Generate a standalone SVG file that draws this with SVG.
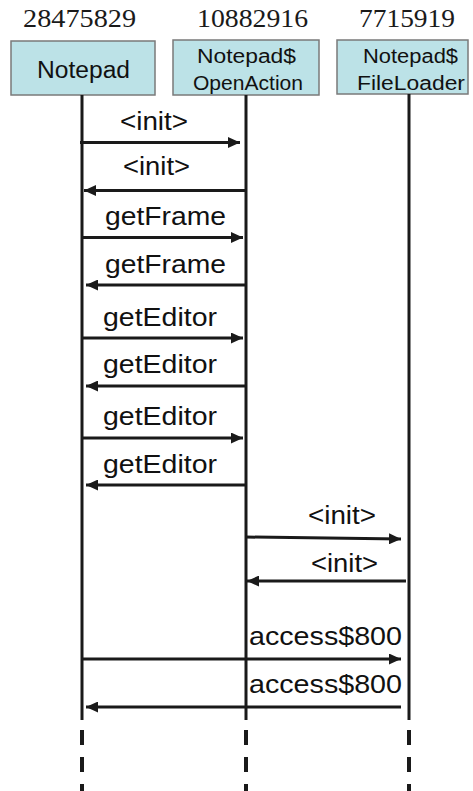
<svg xmlns="http://www.w3.org/2000/svg" width="473" height="791" viewBox="0 0 473 791">
<style>
.bg{fill:#ffffff}
.box{fill:#bce2e7;stroke:#7a7a7a;stroke-width:1.5}
.id{font-family:"Liberation Serif",serif;font-size:26px;fill:#1a1a1a}
.bl{font-family:"Liberation Sans",Arial,sans-serif;fill:#111}
.msg{font-family:"Liberation Sans",Arial,sans-serif;font-size:26.5px;fill:#111}
.life{stroke:#1a1a1a;stroke-width:3;fill:none}
.dash{stroke:#1a1a1a;stroke-width:4;stroke-dasharray:15 12;fill:none}
.arr{stroke:#1a1a1a;stroke-width:3;fill:none;marker-end:url(#ah)}
</style>
<defs>
<marker id="ah" markerUnits="userSpaceOnUse" markerWidth="13" markerHeight="11" refX="12" refY="5.5" orient="auto">
<path d="M0,0 L12,5.5 L0,11 z" fill="#1a1a1a"/>
</marker>
</defs>
<rect class="bg" x="0" y="0" width="473" height="791"/>
<g id="notepad">
<text class="id" x="23" y="27" textLength="113" lengthAdjust="spacingAndGlyphs">28475829</text>
<rect class="box" x="11" y="41" width="144" height="54"/>
<text class="bl" x="37" y="78" font-size="23" textLength="93" lengthAdjust="spacingAndGlyphs">Notepad</text>
<line class="life" x1="82" y1="95" x2="82" y2="720"/>
<line class="dash" x1="82" y1="730" x2="82" y2="791"/>
</g>
<g id="openaction">
<text class="id" x="197" y="27" textLength="111" lengthAdjust="spacingAndGlyphs">10882916</text>
<rect class="box" x="173" y="40" width="146" height="55"/>
<text class="bl" x="197" y="63" font-size="20" textLength="99" lengthAdjust="spacingAndGlyphs">Notepad$</text>
<text class="bl" x="193" y="90" font-size="20" textLength="110" lengthAdjust="spacingAndGlyphs">OpenAction</text>
<line class="life" x1="246" y1="95" x2="246" y2="720"/>
<line class="dash" x1="246" y1="730" x2="246" y2="791"/>
</g>
<g id="fileloader">
<text class="id" x="359" y="27" textLength="96" lengthAdjust="spacingAndGlyphs">7715919</text>
<rect class="box" x="337" y="40" width="131" height="54"/>
<text class="bl" x="363" y="63" font-size="20" textLength="95" lengthAdjust="spacingAndGlyphs">Notepad$</text>
<text class="bl" x="357" y="90" font-size="20" textLength="108" lengthAdjust="spacingAndGlyphs">FileLoader</text>
<line class="life" x1="409" y1="94" x2="409" y2="720"/>
<line class="dash" x1="409" y1="730" x2="409" y2="791"/>
</g>
<g id="connectors">
<line class="arr" x1="80" y1="142.5" x2="240" y2="142.5"/>
<line class="arr" x1="245" y1="190.5" x2="84" y2="190.5"/>
<line class="arr" x1="82" y1="237.5" x2="243" y2="237.5"/>
<line class="arr" x1="246" y1="285" x2="86" y2="285"/>
<line class="arr" x1="82" y1="338" x2="243" y2="338"/>
<line class="arr" x1="246" y1="386" x2="86" y2="386"/>
<line class="arr" x1="82" y1="438" x2="243" y2="438"/>
<line class="arr" x1="246" y1="485" x2="86" y2="485"/>
<line class="arr" x1="246" y1="537" x2="401" y2="539"/>
<line class="arr" x1="406" y1="581" x2="247" y2="581"/>
<line class="arr" x1="82" y1="659" x2="401" y2="659"/>
<line class="arr" x1="401" y1="707" x2="86" y2="707"/>
<text class="msg" x="120" y="130" textLength="68" lengthAdjust="spacingAndGlyphs">&lt;init&gt;</text>
<text class="msg" x="123" y="175" textLength="67" lengthAdjust="spacingAndGlyphs">&lt;init&gt;</text>
<text class="msg" x="105" y="225" textLength="121" lengthAdjust="spacingAndGlyphs">getFrame</text>
<text class="msg" x="105" y="273" textLength="121" lengthAdjust="spacingAndGlyphs">getFrame</text>
<text class="msg" x="103" y="326" textLength="114" lengthAdjust="spacingAndGlyphs">getEditor</text>
<text class="msg" x="103" y="373" textLength="114" lengthAdjust="spacingAndGlyphs">getEditor</text>
<text class="msg" x="103" y="425" textLength="114" lengthAdjust="spacingAndGlyphs">getEditor</text>
<text class="msg" x="103" y="473" textLength="114" lengthAdjust="spacingAndGlyphs">getEditor</text>
<text class="msg" x="308" y="524" textLength="68" lengthAdjust="spacingAndGlyphs">&lt;init&gt;</text>
<text class="msg" x="311" y="572" textLength="67" lengthAdjust="spacingAndGlyphs">&lt;init&gt;</text>
<text class="msg" x="249" y="645" textLength="153" lengthAdjust="spacingAndGlyphs">access$800</text>
<text class="msg" x="249" y="693" textLength="153" lengthAdjust="spacingAndGlyphs">access$800</text>
</g>
</svg>
